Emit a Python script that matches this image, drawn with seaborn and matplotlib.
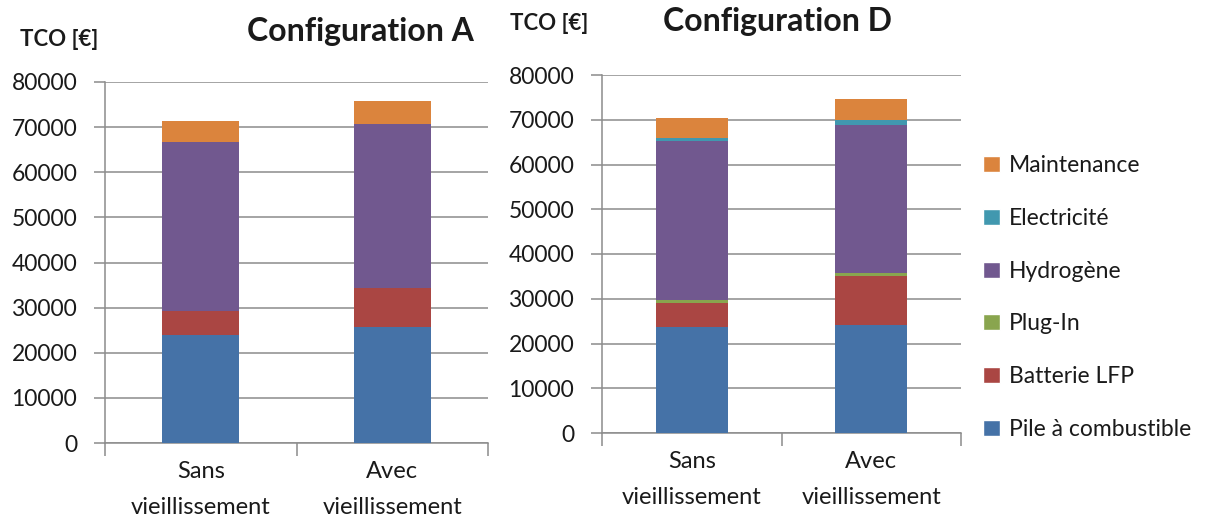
import matplotlib

matplotlib.use("Agg")
import matplotlib.pyplot as plt
import numpy as np
import pandas as pd
import seaborn as sns
from matplotlib.patches import Patch

sns.set_style("white")
plt.rcParams["font.family"] = ["Lato", "DejaVu Sans"]

# data (EUR)
scenarios = ["Sans\nvieillissement", "Avec\nvieillissement"]
components = ["Pile à combustible", "Batterie LFP", "Plug-In",
              "Hydrogène", "Electricité", "Maintenance"]
colors = ["#4572A7", "#AA4643", "#89A54E", "#71588F", "#4198AF", "#DB843D"]

# Configuration A
pile_a = [23950, 25800]
batt_a = [5250, 8550]
plug_a = [0, 0]
h2_a = [37450, 36400]
elec_a = [0, 0]
maint_a = [4600, 4950]

# Configuration D
pile_d = [23700, 24150]
batt_d = [5300, 11000]
plug_d = [800, 650]
h2_d = [35550, 33100]
elec_d = [500, 1150]
maint_d = [4500, 4600]

config_a = [pile_a, batt_a, plug_a, h2_a, elec_a, maint_a]
config_d = [pile_d, batt_d, plug_d, h2_d, elec_d, maint_d]

W, H = 1206, 522
grid_col = "#8c8c8c"
txt_col = "#1a1a1a"


def stacked(ax, series):
    df = pd.DataFrame(dict(zip(components, series)), index=scenarios)
    cum = df.cumsum(axis=1)
    # draw from the top layer down so each lower layer covers the one above
    for comp, col in zip(components[::-1], colors[::-1]):
        sns.barplot(x=cum.index, y=cum[comp].values, color=col,
                    width=0.4, saturation=1, linewidth=0, ax=ax, zorder=3)
    ax.set_ylim(0, 80000)
    ax.set_xlim(-0.5, 1.5)
    ax.set_yticks(np.arange(0, 80001, 10000))
    ax.yaxis.grid(True, color=grid_col, lw=1.1, zorder=0)
    ax.set_axisbelow(True)
    for s in ["top", "right"]:
        ax.spines[s].set_visible(False)
    for s in ["left", "bottom"]:
        ax.spines[s].set_color(grid_col)
        ax.spines[s].set_linewidth(1.1)
    ax.tick_params(axis="y", length=8, width=1.1, color=grid_col,
                   labelsize=16.5, labelcolor=txt_col, pad=12, left=True)
    ax.set_xticks([0, 1])
    ax.set_xticklabels(scenarios, fontsize=17, color=txt_col,
                       linespacing=1.9)
    ax.tick_params(axis="x", length=0, pad=13)
    ax.set_xticks([-0.5, 0.5, 1.5], minor=True)
    ax.tick_params(axis="x", which="minor", length=9, width=1.1,
                   color=grid_col, bottom=True)
    ax.set_xlabel("")
    ax.set_ylabel("")


fig = plt.figure(figsize=(W / 100, H / 100), dpi=100)
ax_a = fig.add_axes([105 / W, 1 - 443 / H, 383 / W, 361 / H])
ax_d = fig.add_axes([602 / W, 1 - 433 / H, 359 / W, 358 / H])

stacked(ax_a, config_a)
stacked(ax_d, config_d)

fig.text(360 / W, 1 - 31 / H, "Configuration A", fontsize=23,
         fontweight="bold", ha="center", va="center", color=txt_col)
fig.text(778 / W, 1 - 22 / H, "Configuration D", fontsize=23,
         fontweight="bold", ha="center", va="center", color=txt_col)
fig.text(59 / W, 1 - 40 / H, "TCO [€]", fontsize=16,
         fontweight="bold", ha="center", va="center", color=txt_col)
fig.text(549 / W, 1 - 23 / H, "TCO [€]", fontsize=16,
         fontweight="bold", ha="center", va="center", color=txt_col)

handles = [Patch(facecolor=c, label=l) for l, c in zip(components, colors)]
fig.legend(handles=handles[::-1], loc="upper left",
           bbox_to_anchor=(972 / W, 1 - 144 / H), frameon=False,
           fontsize=16.5, labelspacing=1.38, handlelength=0.7,
           handleheight=0.7, handletextpad=0.4, borderpad=0,
           labelcolor=txt_col)

fig.savefig("out.png", dpi=100)
